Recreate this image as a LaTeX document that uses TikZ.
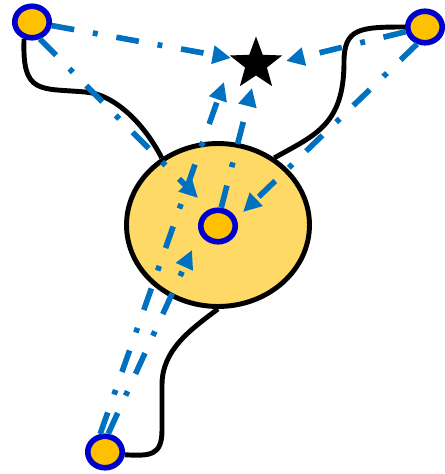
\documentclass[tikz,border=0pt]{standalone}
\usepackage{tikz}
\usetikzlibrary{arrows.meta,shapes.geometric}
\definecolor{flowblue}{RGB}{0,112,192}
\definecolor{ringblue}{RGB}{0,0,204}
\definecolor{gold}{RGB}{255,192,0}
\definecolor{cellfill}{RGB}{255,217,102}
\tikzset{
  site/.style={ellipse, draw=ringblue, fill=gold, line width=3.2pt,
               minimum width=0.69cm, minimum height=0.63cm, inner sep=0pt},
  cellbody/.style={ellipse, draw=black, fill=cellfill, line width=2.8pt,
               minimum width=3.66cm, minimum height=3.26cm, inner sep=0pt},
  starmark/.style={star, star points=5, star point ratio=2.4, fill=black,
               minimum size=1.1cm, inner sep=0pt},
  wire/.style={line width=2.8pt, black},
  flow/.style={-{Triangle[length=10.5pt,width=10pt]}, line width=3.2pt, flowblue,
               dash pattern=on 13pt off 10.8pt on 2.8pt off 10.8pt},
}
\begin{document}
\begin{tikzpicture}[x=0.02cm, y=-0.02cm]
  \useasboundingbox (0,0) rectangle (445,474);
  \node[cellbody] (cell) at (218,225) {};
  \node[site] (ctr) at (218,226) {};
  \node[site] (tl) at (32,22) {};
  \node[site] (tr) at (425,27) {};
  \node[site] (bot) at (105,452) {};
  \node[starmark] (star) at (256,64) {};

  \draw[wire] (tl.-115) .. controls (22,95) and (40,88) .. (85,92)
    .. controls (115,94) and (145,125) .. (cell.130);
  \draw[wire] (tr.180) .. controls (360,27) and (344,28) .. (344,62)
    .. controls (344,125) and (315,135) .. (cell.50);
  \draw[wire] (cell.south) .. controls (190,330) and (162,350) .. (162,385)
    -- (162,430) .. controls (162,456) and (150,456) .. (bot.-8);

  \draw[flow] (tl) -- ([shift={(-25,-6)}]star.center);
  \draw[flow] (tr) -- ([shift={(30,-3)}]star.center);
  \draw[flow] (tl.-65) -- ([shift={(-20,-28)}]ctr.center);
  \draw[flow] (tr.-115) -- ([shift={(25,-14)}]ctr.center);
  \draw[flow] (bot.105) -- ([shift={(-32,18)}]star.center);
  \draw[flow] (bot.80) -- ([shift={(-26,24)}]ctr.center);
  \draw[flow] (ctr.80) -- ([shift={(-4,24)}]star.center);
\end{tikzpicture}
\end{document}
